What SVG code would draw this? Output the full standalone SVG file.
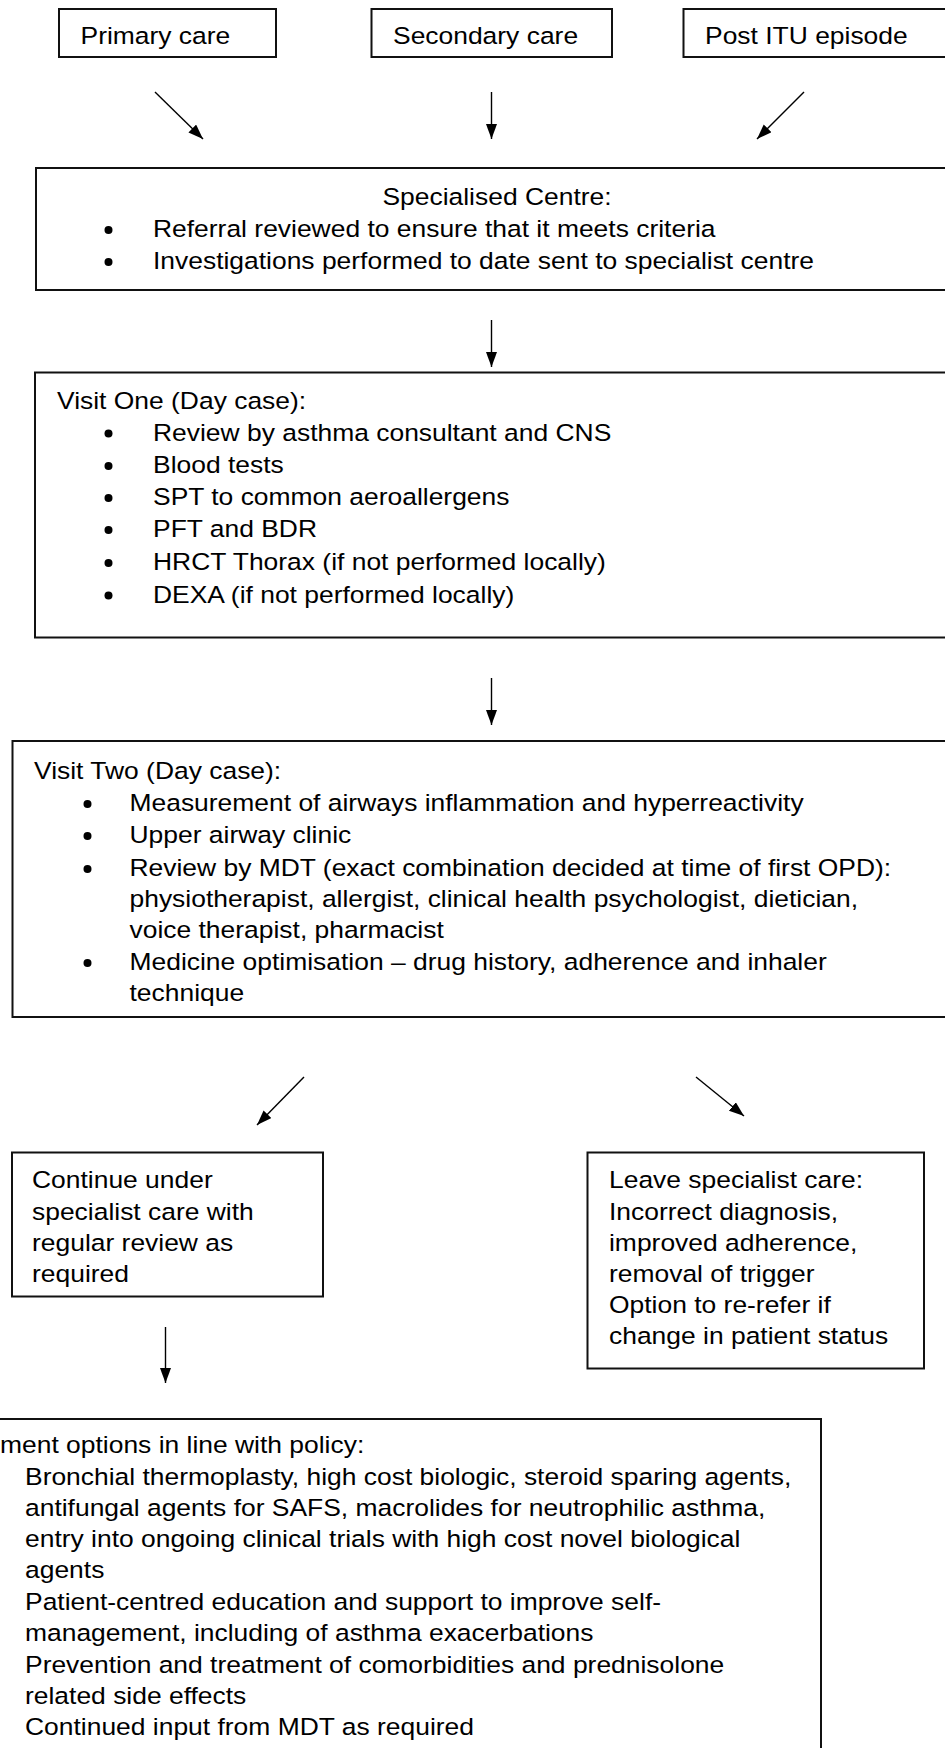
<svg xmlns="http://www.w3.org/2000/svg" width="945" height="1748" viewBox="0 0 945 1748">
<style>
.box{fill:#fff;stroke:#111;stroke-width:2}
.t{font-family:"Liberation Sans",Arial,sans-serif;font-size:23.5px;fill:#000}
.c{text-anchor:middle}
.b{fill:#000}
.conn line{stroke:#000;stroke-width:1.4;marker-end:url(#ah)}
</style>
<defs>
<marker id="ah" markerUnits="userSpaceOnUse" markerWidth="16" markerHeight="12" refX="15" refY="5.5" orient="auto">
<path d="M0,0 L15,5.5 L0,11 z" fill="#000"/>
</marker>
</defs>
<rect width="945" height="1748" fill="#fff"/>

<g id="primary-care">
<rect class="box" x="59" y="9" width="217" height="48"/>
<text class="t" transform="translate(80.5 43.5) scale(1.125 1)">Primary care</text>
</g>
<g id="secondary-care">
<rect class="box" x="371.5" y="9" width="240.5" height="48"/>
<text class="t" transform="translate(393 43.5) scale(1.125 1)">Secondary care</text>
</g>
<g id="post-itu">
<rect class="box" x="683.5" y="9" width="300" height="48"/>
<text class="t" transform="translate(705 43.5) scale(1.125 1)">Post ITU episode</text>
</g>

<g id="specialised-centre">
<rect class="box" x="36" y="168" width="940" height="122"/>
<text class="t c" transform="translate(497 205) scale(1.125 1)">Specialised Centre:</text>
<circle class="b" cx="108.5" cy="230" r="4"/>
<text class="t" transform="translate(153 237) scale(1.125 1)">Referral reviewed to ensure that it meets criteria</text>
<circle class="b" cx="108.5" cy="262" r="4"/>
<text class="t" transform="translate(153 269) scale(1.125 1)">Investigations performed to date sent to specialist centre</text>
</g>

<g id="visit-one">
<rect class="box" x="35" y="372.5" width="940" height="265"/>
<text class="t" transform="translate(57 408.5) scale(1.125 1)">Visit One (Day case):</text>
<circle class="b" cx="108.5" cy="433.5" r="4"/>
<text class="t" transform="translate(153 440.5) scale(1.125 1)">Review by asthma consultant and CNS</text>
<circle class="b" cx="108.5" cy="466" r="4"/>
<text class="t" transform="translate(153 473) scale(1.125 1)">Blood tests</text>
<circle class="b" cx="108.5" cy="498" r="4"/>
<text class="t" transform="translate(153 505) scale(1.125 1)">SPT to common aeroallergens</text>
<circle class="b" cx="108.5" cy="530" r="4"/>
<text class="t" transform="translate(153 537) scale(1.125 1)">PFT and BDR</text>
<circle class="b" cx="108.5" cy="563" r="4"/>
<text class="t" transform="translate(153 570) scale(1.125 1)">HRCT Thorax (if not performed locally)</text>
<circle class="b" cx="108.5" cy="595.5" r="4"/>
<text class="t" transform="translate(153 602.5) scale(1.125 1)">DEXA (if not performed locally)</text>
</g>

<g id="visit-two">
<rect class="box" x="12.5" y="741" width="960" height="276"/>
<text class="t" transform="translate(34 778.5) scale(1.125 1)">Visit Two (Day case):</text>
<circle class="b" cx="87.5" cy="804" r="4"/>
<text class="t" transform="translate(129.5 811) scale(1.125 1)">Measurement of airways inflammation and hyperreactivity</text>
<circle class="b" cx="87.5" cy="836" r="4"/>
<text class="t" transform="translate(129.5 843) scale(1.125 1)">Upper airway clinic</text>
<circle class="b" cx="87.5" cy="869" r="4"/>
<text class="t" transform="translate(129.5 876) scale(1.125 1)">Review by MDT (exact combination decided at time of first OPD):</text>
<text class="t" transform="translate(129.5 907) scale(1.125 1)">physiotherapist, allergist, clinical health psychologist, dietician,</text>
<text class="t" transform="translate(129.5 937.5) scale(1.125 1)">voice therapist, pharmacist</text>
<circle class="b" cx="87.5" cy="963" r="4"/>
<text class="t" transform="translate(129.5 970) scale(1.125 1)">Medicine optimisation – drug history, adherence and inhaler</text>
<text class="t" transform="translate(129.5 1001) scale(1.125 1)">technique</text>
</g>

<g id="continue-care">
<rect class="box" x="12" y="1152.5" width="311" height="144"/>
<text class="t" transform="translate(32 1187.5) scale(1.125 1)">Continue under</text>
<text class="t" transform="translate(32 1219.5) scale(1.125 1)">specialist care with</text>
<text class="t" transform="translate(32 1250.5) scale(1.125 1)">regular review as</text>
<text class="t" transform="translate(32 1281.5) scale(1.125 1)">required</text>
</g>

<g id="leave-care">
<rect class="box" x="587.5" y="1152.5" width="336.5" height="216"/>
<text class="t" transform="translate(609 1187.5) scale(1.125 1)">Leave specialist care:</text>
<text class="t" transform="translate(609 1219.5) scale(1.125 1)">Incorrect diagnosis,</text>
<text class="t" transform="translate(609 1250.5) scale(1.125 1)">improved adherence,</text>
<text class="t" transform="translate(609 1281.5) scale(1.125 1)">removal of trigger</text>
<text class="t" transform="translate(609 1312.5) scale(1.125 1)">Option to re-refer if</text>
<text class="t" transform="translate(609 1343.5) scale(1.125 1)">change in patient status</text>
</g>

<g id="treatment-options">
<rect class="box" x="-20" y="1419" width="841" height="400"/>
<text class="t" transform="translate(0 1453) scale(1.125 1)">ment options in line with policy:</text>
<text class="t" transform="translate(25 1485) scale(1.125 1)">Bronchial thermoplasty, high cost biologic, steroid sparing agents,</text>
<text class="t" transform="translate(25 1516) scale(1.125 1)">antifungal agents for SAFS, macrolides for neutrophilic asthma,</text>
<text class="t" transform="translate(25 1547) scale(1.125 1)">entry into ongoing clinical trials with high cost novel biological</text>
<text class="t" transform="translate(25 1578) scale(1.125 1)">agents</text>
<text class="t" transform="translate(25 1610) scale(1.125 1)">Patient-centred education and support to improve self-</text>
<text class="t" transform="translate(25 1641) scale(1.125 1)">management, including of asthma exacerbations</text>
<text class="t" transform="translate(25 1673) scale(1.125 1)">Prevention and treatment of comorbidities and prednisolone</text>
<text class="t" transform="translate(25 1704) scale(1.125 1)">related side effects</text>
<text class="t" transform="translate(25 1735) scale(1.125 1)">Continued input from MDT as required</text>
</g>

<g id="connectors" class="conn">
<line x1="155" y1="92" x2="203" y2="139"/>
<line x1="491.5" y1="92" x2="491.5" y2="139"/>
<line x1="804" y1="92" x2="757" y2="139"/>
<line x1="491.5" y1="320" x2="491.5" y2="367"/>
<line x1="491.5" y1="678" x2="491.5" y2="725"/>
<line x1="304" y1="1077" x2="257" y2="1125"/>
<line x1="696" y1="1077" x2="744" y2="1116"/>
<line x1="165.5" y1="1327" x2="165.5" y2="1383"/>
</g>
</svg>
